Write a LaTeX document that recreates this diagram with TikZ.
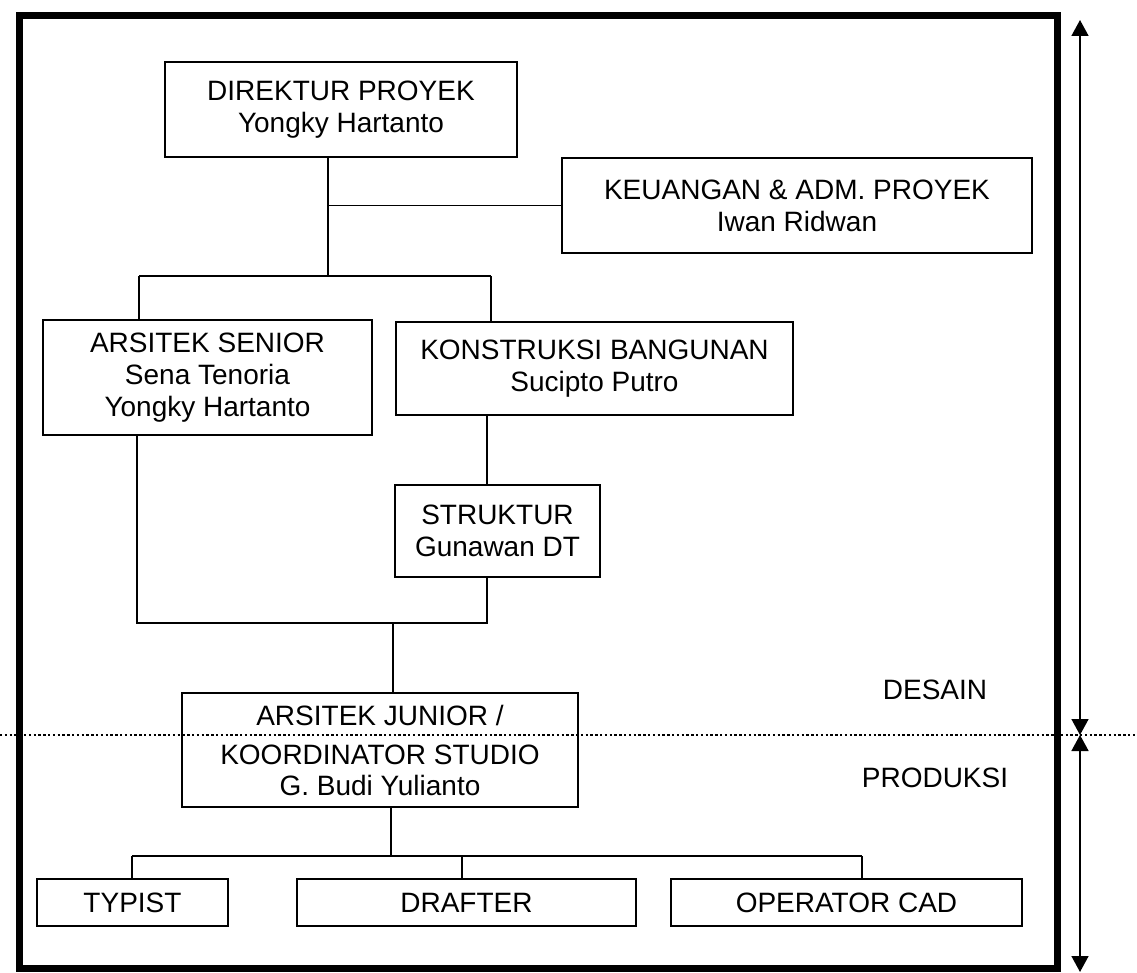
\documentclass[tikz,border=0pt]{standalone}
\usepackage{fontspec}
\setmainfont{Liberation Sans}
\usetikzlibrary{arrows.meta}
\begin{document}
\begin{tikzpicture}[x=0.5pt,y=-0.5pt,
  box/.style={draw,line width=0.9pt,align=center,inner sep=0pt,
    font=\fontsize{14pt}{16pt}\selectfont},
  conn/.style={line width=0.9pt},
  lbl/.style={font=\fontsize{14pt}{16pt}\selectfont,inner sep=0pt},
  frame/.style={line width=3.5pt},
  span/.style={line width=0.8pt,{Triangle[width=8.5pt,length=8pt]}-{Triangle[width=8.5pt,length=8pt]}},
  sep/.style={line width=0.8pt,dash pattern=on 1.2pt off 1.2pt}]
\useasboundingbox (0,0) rectangle (1137,973);
% frame
\draw[frame] (19,16) rectangle (1057,968);
% boxes
\node[box,minimum width=176pt,minimum height=47.5pt] (dir) at (341,109.5) {DIREKTUR PROYEK\\Yongky Hartanto};
\node[box,minimum width=235pt,minimum height=47.5pt] (keu) at (797,205.5) {KEUANGAN \& ADM. PROYEK\\Iwan Ridwan};
\node[box,minimum width=164.5pt,minimum height=57.5pt] (sen) at (207.5,377.5) {ARSITEK SENIOR\\Sena Tenoria\\Yongky Hartanto};
\node[box,minimum width=198.5pt,minimum height=46.5pt] (kon) at (594.5,368.5) {KONSTRUKSI BANGUNAN\\Sucipto Putro};
\node[box,minimum width=102.5pt,minimum height=46pt] (str) at (497.5,531) {STRUKTUR\\Gunawan DT};
\node[box,minimum width=198pt,minimum height=57pt,font=\fontsize{14pt}{15.5pt}\selectfont] (jun) at (380,750) {ARSITEK JUNIOR /\\[4pt]KOORDINATOR STUDIO\\G. Budi Yulianto};
\node[box,minimum width=95.5pt,minimum height=23.5pt] (typ) at (132.5,902.5) {TYPIST};
\node[box,minimum width=169.5pt,minimum height=23.5pt] (dra) at (466.5,902.5) {DRAFTER};
\node[box,minimum width=175.5pt,minimum height=23.5pt] (opc) at (846.5,902.5) {OPERATOR CAD};
% labels
\node[lbl] (desain) at (935,690) {DESAIN};
\node[lbl] (produksi) at (935,778) {PRODUKSI};
% junction coordinates
\coordinate (jA) at (328,276);
\coordinate (jAl) at (139,276);
\coordinate (jAr) at (491,276);
\coordinate (jB) at (393,623);
\coordinate (jC) at (391,856);
\coordinate (jCl) at (132,856);
\coordinate (jCm) at (462,856);
\coordinate (jCr) at (862,856);
% connectors
\draw[conn] (jA |- dir.south) -- (jA);
\draw[conn] (jA |- keu.west) -- (keu.west);
\draw[conn] (jAl) -- (jAr);
\draw[conn] (jAl) -- (jAl |- sen.north);
\draw[conn] (jAr) -- (jAr |- kon.north);
\draw[conn] (487,0 |- kon.south) -- (487,0 |- str.north);
\draw[conn] (137,0 |- sen.south) |- (jB) -| (487,0 |- str.south);
\draw[conn] (jB) -- (jB |- jun.north);
\draw[conn] (jC |- jun.south) -- (jC);
\draw[conn] (jCl) -- (jCr);
\draw[conn] (jCl) -- (jCl |- typ.north);
\draw[conn] (jCm) -- (jCm |- dra.north);
\draw[conn] (jCr) -- (jCr |- opc.north);
% separator and spans
\draw[sep] (0,735) -- (1137,735);
\coordinate (aT) at (1080,20);
\coordinate (aM) at (1080,735);
\coordinate (aB) at (1080,972);
\draw[span] (aT) -- (aM);
\draw[span] (aM) -- (aB);
\end{tikzpicture}
\end{document}
